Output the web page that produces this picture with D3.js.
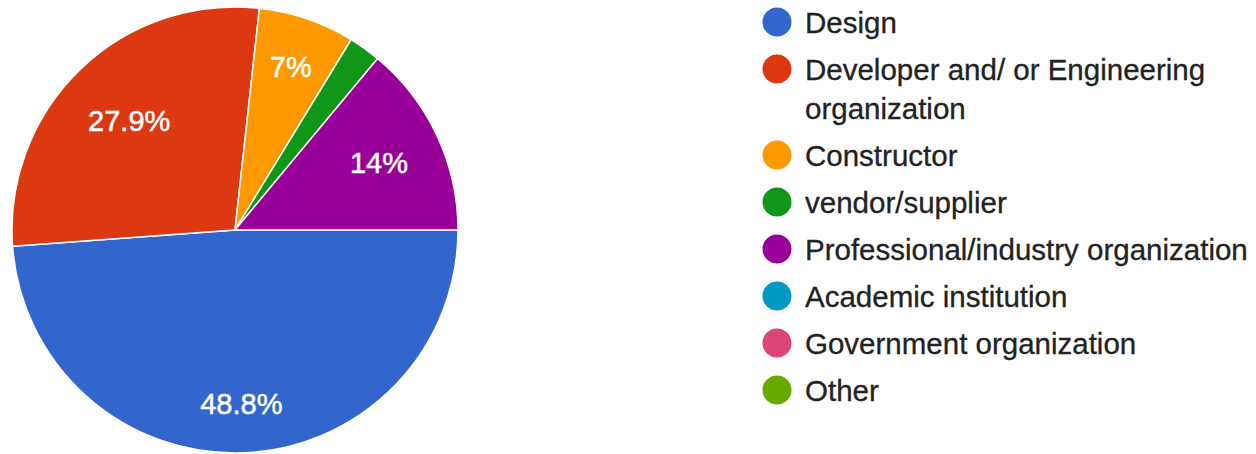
<html>
<head>
  <title>Respondents</title>
  <script src="https://d3js.org/d3.v7.min.js"></script>
  <style>
    body { margin: 0; background: #fff; }
    text { font-family: "Liberation Sans", Arial, sans-serif; }
  </style>
</head>
<body>
<script>
  // responses per category (43 in all)
  var categories = ["Design", "Developer and/ or Engineering organization", "Constructor",
                    "vendor/supplier", "Professional/industry organization",
                    "Academic institution", "Government organization", "Other"];
  var counts = [21, 12, 3, 1, 6, 0, 0, 0];
  var colors = ["#3366cc", "#dc3912", "#ff9900", "#109618", "#990099", "#0099c6", "#dd4477", "#66aa00"];
  // legend lines (the long one wraps)
  var legendLines = [["Design"], ["Developer and/ or Engineering", "organization"], ["Constructor"],
                     ["vendor/supplier"], ["Professional/industry organization"],
                     ["Academic institution"], ["Government organization"], ["Other"]];

  var width = 1256, height = 454;
  var cx = 235, cy = 230, r = 223;

  var svg = d3.select("body").append("svg")
      .attr("width", width)
      .attr("height", height);

  var total = d3.sum(counts);
  var data = categories.map(function(c, i){ return { name: c, value: counts[i], color: colors[i], lines: legendLines[i] }; });

  var pie = d3.pie()
      .sort(null)
      .value(function(d){ return d.value; })
      .startAngle(Math.PI / 2)
      .endAngle(Math.PI / 2 + 2 * Math.PI);

  var arc = d3.arc().innerRadius(0).outerRadius(r);

  var g = svg.append("g").attr("transform", "translate(" + cx + "," + cy + ")");
  var arcs = pie(data).filter(function(d){ return d.data.value > 0; });

  g.selectAll("path").data(arcs).enter()
    .append("path")
    .attr("d", arc)
    .attr("fill", function(d){ return d.data.color; })
    .attr("stroke", "#fff")
    .attr("stroke-width", 1.5);

  var pct = function(v){ return +(v / total * 100).toFixed(1) + "%"; };

  // labels: push out until the far corner of the text box sits at 0.85 r
  var labels = g.selectAll("text.lbl").data(arcs.filter(function(d){ return d.data.value / total >= 0.05; })).enter()
    .append("text")
    .attr("class", "lbl")
    .attr("text-anchor", "middle")
    .attr("dy", "0.36em")
    .attr("fill", "#fff")
    .attr("stroke", "#fff")
    .attr("stroke-width", 0.5)
    .attr("font-size", 29)
    .text(function(d){ return pct(d.data.value); });

  labels.attr("transform", function(d){
    var mid = (d.startAngle + d.endAngle) / 2;
    var sx = Math.sin(mid), sy = -Math.cos(mid);
    var a = this.getComputedTextLength() / 2, b = 10, R = r * 0.85;
    var B = a * Math.abs(sx) + b * Math.abs(sy), C = a * a + b * b - R * R;
    var dist = -B + Math.sqrt(B * B - C);
    return "translate(" + (dist * sx) + "," + (dist * sy) + ")";
  });

  // legend
  var rowY = 22, rowGap = 47, lineGap = 39;
  var legend = svg.append("g");
  data.forEach(function(d){
    var row = legend.append("g").attr("transform", "translate(777," + rowY + ")");
    row.append("circle").attr("r", 14.5).attr("fill", d.color);
    d.lines.forEach(function(line, j){
      row.append("text")
        .attr("x", 28)
        .attr("y", j * lineGap)
        .attr("dy", "0.36em")
        .attr("font-size", 29.5)
        .attr("fill", "#222")
        .attr("stroke", "#222")
        .attr("stroke-width", 0.3)
        .text(line);
    });
    rowY += rowGap + (d.lines.length - 1) * lineGap;
  });
</script>
</body>
</html>
